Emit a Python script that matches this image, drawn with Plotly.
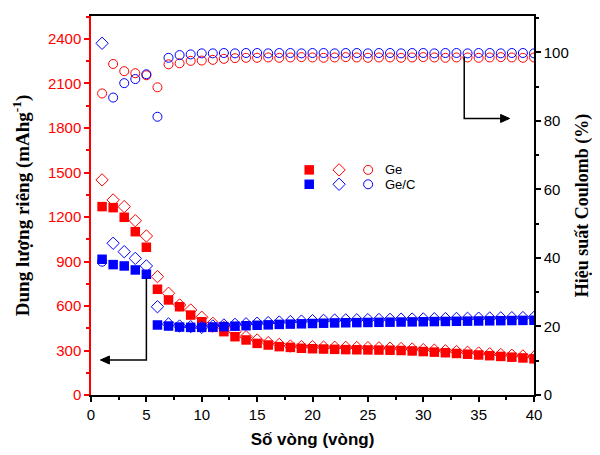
import plotly.graph_objects as go

cycles = list(range(1, 41))

# Ge: charge (filled squares), discharge (open diamonds), Coulombic efficiency (open circles)
ge_charge = [1270, 1263, 1198, 1101, 996, 713, 641, 595, 539, 494,
             456, 427, 393, 371, 348, 337, 326, 321, 315, 312,
             310, 308, 306, 305, 304, 303, 302, 300, 297, 293,
             289, 285, 280, 275, 270, 265, 260, 255, 250, 244]
ge_discharge = [1450, 1315, 1270, 1175, 1072, 798, 686, 607, 573, 524,
                483, 456, 427, 393, 371, 353, 341, 330, 326, 326,
                323, 322, 321, 320, 319, 318, 316, 313, 310, 306,
                302, 298, 293, 288, 283, 278, 273, 268, 263, 256]
ge_ce = [88.0, 96.6, 94.5, 93.9, 93.3, 89.8, 96.5, 96.8, 97.5, 97.6,
         97.8, 98.1, 98.3, 98.4, 98.4, 98.5, 98.4, 98.5, 98.6, 98.5,
         98.4, 98.5, 98.6, 98.5, 98.4, 98.5, 98.5, 98.4, 98.5, 98.6,
         98.5, 98.4, 98.5, 98.5, 98.4, 98.5, 98.6, 98.5, 98.4, 98.5]

# Ge/C
gec_charge = [915, 879, 870, 843, 814, 472, 465, 458, 456, 456,
              458, 461, 464, 467, 470, 473, 476, 478, 480, 482,
              484, 486, 487, 488, 489, 490, 491, 492, 493, 494,
              495, 496, 497, 498, 499, 500, 501, 502, 503, 504]
gec_discharge = [2371, 1023, 966, 921, 870, 595, 479, 465, 461, 456,
                 465, 472, 476, 480, 484, 488, 492, 495, 498, 501,
                 503, 505, 506, 507, 508, 509, 510, 511, 512, 513,
                 514, 515, 516, 517, 518, 519, 520, 521, 522, 523]
gec_ce = [38.9, 86.8, 91.0, 92.2, 93.6, 81.2, 98.4, 99.2, 99.4, 99.7,
          99.7, 99.8, 99.7, 99.8, 99.8, 99.7, 99.8, 99.8, 99.7, 99.8,
          99.8, 99.7, 99.8, 99.8, 99.7, 99.8, 99.8, 99.7, 99.8, 99.8,
          99.7, 99.8, 99.8, 99.7, 99.8, 99.8, 99.7, 99.8, 99.8, 99.7]

series_names = ["Ge", "Ge/C"]
x_ticks = [0, 5, 10, 15, 20, 25, 30, 35, 40]
left_ticks = [0, 300, 600, 900, 1200, 1500, 1800, 2100, 2400]
right_ticks = [0, 20, 40, 60, 80, 100]

RED = "#FF0000"
BLUE = "#0000FF"
SQ = 9.5
DM = 9.5
CI = 9

fig = go.Figure()

def add_series(charge, discharge, ce, color):
    fig.add_trace(go.Scatter(x=cycles, y=ce, mode="markers", yaxis="y2",
                             marker=dict(symbol="circle-open", size=CI, color=color,
                                         line=dict(width=1, color=color)),
                             showlegend=False, hoverinfo="skip"))
    fig.add_trace(go.Scatter(x=cycles, y=charge, mode="markers",
                             marker=dict(symbol="square", size=SQ, color=color),
                             showlegend=False, hoverinfo="skip"))
    fig.add_trace(go.Scatter(x=cycles, y=discharge, mode="markers",
                             marker=dict(symbol="diamond-open", size=DM, color=color,
                                         line=dict(width=1, color=color)),
                             showlegend=False, hoverinfo="skip"))

add_series(ge_charge, ge_discharge, ge_ce, RED)
add_series(gec_charge, gec_discharge, gec_ce, BLUE)

# custom legend on an invisible overlay axis (0..1)
leg_x = [0.4926, 0.560, 0.6256]
leg_y = [0.594, 0.556]
for row, (name, color) in enumerate(zip(series_names, [RED, BLUE])):
    fig.add_trace(go.Scatter(x=[leg_x[0]], y=[leg_y[row]], xaxis="x3", yaxis="y3", mode="markers",
                             marker=dict(symbol="square", size=SQ, color=color),
                             showlegend=False, hoverinfo="skip"))
    fig.add_trace(go.Scatter(x=[leg_x[1]], y=[leg_y[row]], xaxis="x3", yaxis="y3", mode="markers",
                             marker=dict(symbol="diamond-open", size=DM, color=color,
                                         line=dict(width=1, color=color)),
                             showlegend=False, hoverinfo="skip"))
    fig.add_trace(go.Scatter(x=[leg_x[2]], y=[leg_y[row]], xaxis="x3", yaxis="y3", mode="markers",
                             marker=dict(symbol="circle-open", size=CI, color=color,
                                         line=dict(width=1, color=color)),
                             showlegend=False, hoverinfo="skip"))
    fig.add_annotation(x=0.66, y=leg_y[row], xref="x3", yref="y3", text=name,
                       showarrow=False, xanchor="left", yanchor="middle",
                       font=dict(family="Liberation Sans, Arial", size=13, color="black"))

# L-shaped pointer arrows: line path + small filled arrowhead (pixel-sized)
fig.add_shape(type="path", path="M 5,790 L 5,236 L 1.3,236", xref="x", yref="y",
              line=dict(color="black", width=1.5))
fig.add_shape(type="path", path="M 0,0 L 9,-4 L 9,4 Z", xref="x", yref="y",
              xsizemode="pixel", ysizemode="pixel", xanchor=0.85, yanchor=236,
              line=dict(color="black", width=1), fillcolor="black")
fig.add_shape(type="path", path="M 33.7,98.7 L 33.7,80.7 L 37.3,80.7", xref="x", yref="y2",
              line=dict(color="black", width=1.5))
fig.add_shape(type="path", path="M 0,0 L -9,-4 L -9,4 Z", xref="x", yref="y2",
              xsizemode="pixel", ysizemode="pixel", xanchor=37.8, yanchor=80.7,
              line=dict(color="black", width=1), fillcolor="black")

tickfont = dict(family="Liberation Sans, Arial", size=15, color="black")

# page body has an 8px margin, so the figure is 8px smaller and offset
fig.update_layout(
    width=592, height=447,
    margin=dict(l=83, r=66, t=8, b=60, autoexpand=False),
    paper_bgcolor="white", plot_bgcolor="white",
    showlegend=False,
    xaxis=dict(range=[0, 40], tickvals=x_ticks, ticktext=[str(v) for v in x_ticks],
               ticks="outside", ticklen=5, tickwidth=1.5, tickcolor="black",
               minor=dict(ticks="outside", ticklen=3, dtick=2.5, tickcolor="black", tickwidth=1.5),
               showline=True, linecolor="black", linewidth=1.5, mirror=True,
               showgrid=False, zeroline=False, tickfont=tickfont,
               title=dict(text="Số vòng (vòng)", standoff=11,
                          font=dict(family="Liberation Sans, Arial", size=17, color="black",
                                    weight="bold"))),
    yaxis=dict(range=[0, 2555], tickvals=left_ticks, ticktext=[str(v) for v in left_ticks],
               ticks="outside", ticklen=5, tickwidth=1.5, tickcolor=RED,
               minor=dict(ticks="outside", ticklen=3, dtick=150, tickcolor=RED, tickwidth=1.5),
               showline=True, linecolor=RED, linewidth=1.5,
               showgrid=False, zeroline=False,
               tickfont=dict(family="Liberation Sans, Arial", size=15, color=RED),
               title=dict(text="Dung lượng riêng (mAhg<sup>-1</sup>)", standoff=13,
                          font=dict(family="Liberation Serif, Times New Roman", size=19,
                                    color="black", weight="bold"))),
    yaxis2=dict(range=[0, 110.6], overlaying="y", side="right", anchor="x",
                tickvals=right_ticks, ticktext=[str(v) for v in right_ticks],
                ticks="outside", ticklen=5, tickwidth=1.5, tickcolor="black",
                minor=dict(ticks="outside", ticklen=3, dtick=10, tickcolor="black", tickwidth=1.5),
                showline=True, linecolor="black", linewidth=1.5,
                showgrid=False, zeroline=False, tickfont=tickfont,
                title=dict(text="Hiệu suất Coulomb (%)", standoff=8,
                           font=dict(family="Liberation Serif, Times New Roman", size=18,
                                     color="black", weight="bold"))),
    xaxis3=dict(overlaying="x", range=[0, 1], visible=False),
    yaxis3=dict(overlaying="y", range=[0, 1], visible=False),
)

fig.write_html("out.html")
